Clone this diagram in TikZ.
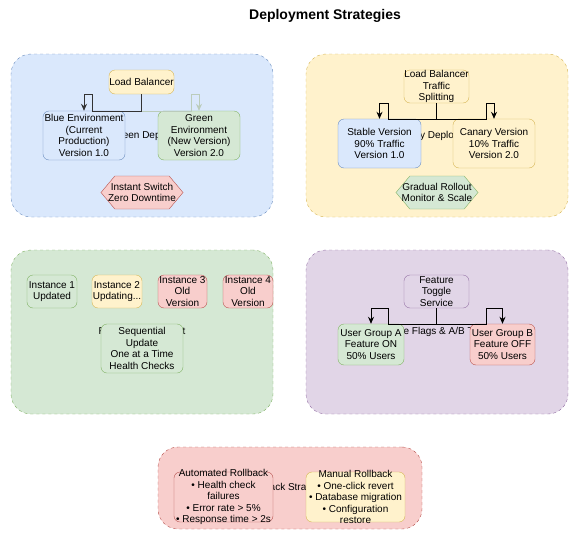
\documentclass[tikz,border=0pt]{standalone}
\usepackage{fontspec}
\setmainfont{Liberation Sans}
\usetikzlibrary{shapes.symbols,arrows.meta}

\definecolor{blueF}{HTML}{DAE8FC}\definecolor{blueD}{HTML}{6C8EBF}
\definecolor{yelF}{HTML}{FFF2CC}\definecolor{yelD}{HTML}{D6B656}
\definecolor{grnF}{HTML}{D5E8D4}\definecolor{grnD}{HTML}{82B366}
\definecolor{redF}{HTML}{F8CECC}\definecolor{redD}{HTML}{B85450}
\definecolor{purF}{HTML}{E1D5E7}\definecolor{purD}{HTML}{9673A6}

\tikzset{
  zone/.style={draw, dash pattern=on 3pt off 3pt, rounded corners=20pt,
    minimum width=262pt, minimum height=163pt, inner sep=0pt},
  box/.style={draw, rounded corners=6pt, align=center, inner sep=0pt},
  hexbox/.style={draw, signal, signal to=east and west, signal pointer angle=100,
    minimum width=82pt, minimum height=33pt, inner sep=0pt},
  inside/.style={label={[align=center, inner sep=0pt]center:{#1}}},
  link/.style={-{Stealth[length=7pt,width=6pt]}, line width=0.8pt},
  blue/.style={fill=blueF, draw=blueD}, yel/.style={fill=yelF, draw=yelD},
  grn/.style={fill=grnF, draw=grnD}, red/.style={fill=redF, draw=redD},
  pur/.style={fill=purF, draw=purD}
}

\begin{document}
\begin{tikzpicture}[x=1pt,y=-1pt,font=\fontsize{10}{11.5}\selectfont]
\useasboundingbox (0,0) rectangle (587,544);
\node[font=\fontsize{14}{16}\selectfont\bfseries] (title) at (325,16) {Deployment Strategies};

% blue-green
\node[zone, blue] (bgzone) at (142,135.5) {Blue-Green Deployment};
\node[box, yel, minimum width=65, minimum height=24] (lb) at (141.5,82) {Load Balancer};
\node[box, blue, minimum width=82, minimum height=49] (blueenv) at (84,135.5) {Blue Environment\\(Current\\Production)\\Version 1.0};
\node[box, grn, minimum width=82, minimum height=49] (greenenv) at (199,135.5) {Green\\Environment\\(New Version)\\Version 2.0};
\node[hexbox, red, inside={Instant Switch\\Zero Downtime}] (instant) at (142,192.5) {};
\draw[link, grnF!88!black] (lb.south) |- (191,111) |- (greenenv.north |- lb.south) -- (greenenv.north);
\draw[link, black!80] (lb.south) |- (92,111) |- (blueenv.north |- lb.south) -- (blueenv.north);

% canary
\node[zone, yel] (canzone) at (437,135.5) {Canary Deployment};
\node[box, yel, minimum width=65, minimum height=33] (split) at (436.5,86.5) {Load Balancer\\Traffic\\Splitting};
\node[box, blue, minimum width=83, minimum height=49] (stable) at (379.5,143.5) {Stable Version\\90\% Traffic\\Version 1.0};
\node[box, yel, minimum width=82, minimum height=49] (canary) at (494,143.5) {Canary Version\\10\% Traffic\\Version 2.0};
\node[hexbox, grn, inside={Gradual Rollout\\Monitor \& Scale}] (gradual) at (437,192.5) {};
\draw[link] (split.south) |- (388,119) |- (stable.north |- split.south) -- (stable.north);
\draw[link] (split.south) |- (486,119) |- (canary.north |- split.south) -- (canary.north);

% rolling
\node[zone, grn, minimum height=164] (rollzone) at (142,332) {Rolling Deployment};
\node[box, grn, minimum width=50, minimum height=33] (inst1) at (52,291.5) {Instance 1\\Updated};
\node[box, yel, minimum width=50, minimum height=33] (inst2) at (117,291.5) {Instance 2\\Updating...};
\node[box, red, minimum width=49, minimum height=33] (inst3) at (182.5,291.5) {Instance 3\\Old\\Version};
\node[box, red, minimum width=50, minimum height=33] (inst4) at (248,291.5) {Instance 4\\Old\\Version};
\node[box, grn, minimum width=82, minimum height=49] (seq) at (142,348.5) {Sequential\\Update\\One at a Time\\Health Checks};

% feature flags
\node[zone, pur, minimum height=164] (flagzone) at (437,332) {Feature Flags \& A/B Testing};
\node[box, pur, minimum width=65, minimum height=33] (toggle) at (436.5,291.5) {Feature\\Toggle\\Service};
\node[box, grn, minimum width=66, minimum height=41] (grpa) at (371,344.5) {User Group A\\Feature ON\\50\% Users};
\node[box, red, minimum width=65, minimum height=41] (grpb) at (502.5,344.5) {User Group B\\Feature OFF\\50\% Users};
\draw[link] (toggle.south) |- (388,324) |- (grpa.north |- toggle.south) -- (grpa.north);
\draw[link] (toggle.south) |- (486,324) |- (grpb.north |- toggle.south) -- (grpb.north);

% rollback
\node[zone, red, minimum width=264, minimum height=82] (backzone) at (290,488) {Rollback Strategies};
\node[box, red, minimum width=99, minimum height=50,
  inside={Automated Rollback\\• Health check\\failures\\• Error rate > 5\%\\• Response time > 2s}] (auto) at (223.5,497) {};
\node[box, yel, minimum width=99, minimum height=50,
  inside={Manual Rollback\\• One-click revert\\• Database migration\\• Configuration\\restore}] (manual) at (355.5,497) {};
\end{tikzpicture}
\end{document}
